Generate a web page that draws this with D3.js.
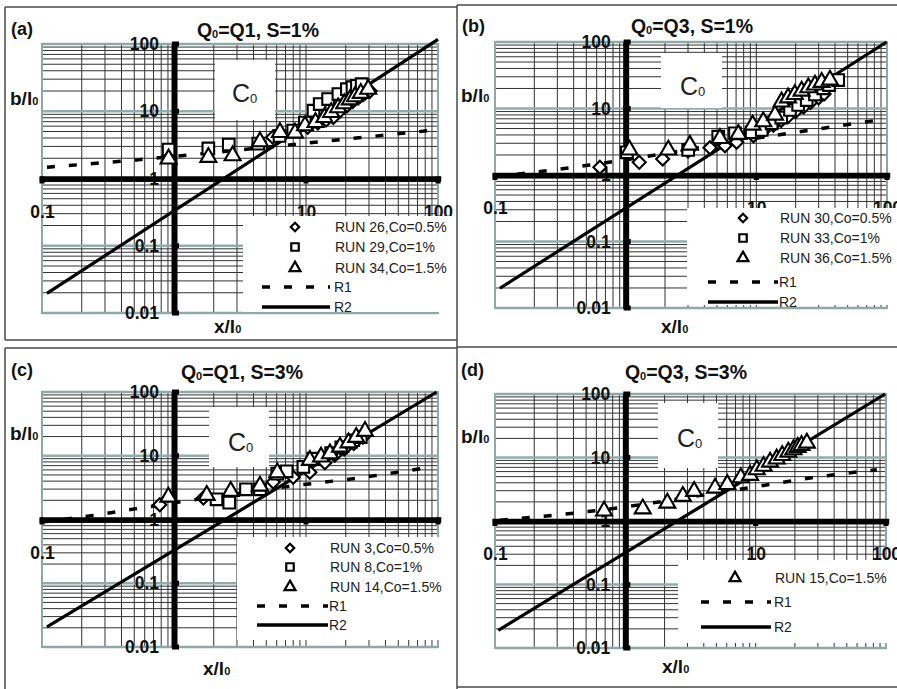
<!DOCTYPE html>
<html>
<head>
<meta charset="utf-8">
<script src="https://cdn.jsdelivr.net/npm/d3@7"></script>
<style>
  body { margin: 0; background: #fff; }
  svg { display: block; }
</style>
</head>
<body>
<svg id="fig" width="897" height="689"></svg>
<script>
// ---------------- data ----------------
const xTickValues = [0.1, 10, 100];
const xTickLabels = ["0.1", "10", "100"];
const yTickValues = [0.01, 0.1, 1, 10, 100];
const yTickLabels = ["0.01", "0.1", "1", "10", "100"];

const panelTags = ["(a)", "(b)", "(c)", "(d)"];
const inflowNames = ["Q1", "Q3", "Q1", "Q3"];
const slopeNames = ["1%", "1%", "3%", "3%"];

// (a) Q0=Q1, S=1%
const legendA = ["RUN 26,Co=0.5%", "RUN 29,Co=1%", "RUN 34,Co=1.5%"];
const runA26 = [[5.6,4.1],[8.3,5.1],[10.3,5.8],[12.3,6.7],[14.2,7.4],[16.1,8.1],[18.2,10.2],[20.5,12.2],[23,14.5],[25.5,16.5],[28,18.5],[30.6,20]];
const runA29 = [[0.91,2.7],[1.82,2.8],[2.6,3.2],[4.35,3.3],[6.3,4.3],[8.0,5.15],[9.8,6.8],[11.4,10.2],[12.7,12.8],[14.7,15.2],[17.6,18.0],[20.4,21.3],[22.5,22.8],[24.3,23.9],[26.4,25.3]];
const runA34 = [[0.91,1.96],[1.82,2.07],[2.78,2.19],[4.48,3.53],[6.35,4.85],[8.26,4.75],[9.83,6.1],[11.8,6.83],[13.8,8.1],[15.5,9.6],[17.5,11.3],[19.5,13.0],[21.5,14.8],[23.5,16.5],[26,18.5],[29.6,21.3]];
const r1A = [[0.109,1.47],[0.52,1.89],[7.8,3.19],[84.5,5.14]];
const r2A = [[0.109,0.0196],[100,117]];

// (b) Q0=Q3, S=1%
const legendB = ["RUN 30,Co=0.5%", "RUN 33,Co=1%", "RUN 36,Co=1.5%"];
const runB30 = [[0.635,1.31],[1.27,1.55],[1.92,1.74],[3.0,2.3],[4.42,2.57],[5.75,2.76],[7.07,3.1],[9.5,3.9],[11.3,4.59],[13.5,5.6],[15.5,6.6],[17.5,7.6],[20,9.0],[23,10.5],[26,12.3],[30,14.5],[33,16.5]];
const runB33 = [[1.02,2.19],[3.01,2.38],[5.11,3.77],[6.86,4.24],[9.2,4.39],[11,4.75],[13.1,5.99],[15.5,7.3],[18.1,9.5],[20.9,11.3],[24.3,13.4],[28.1,16.3],[32.5,20.1],[36,22.5],[42.3,26.8]];
const runB36 = [[1.07,2.38],[2.12,2.38],[3.1,2.82],[5.26,3.56],[7.28,4.09],[9.37,5.65],[11.3,6.34],[13.9,7.98],[15.6,12.6],[17.5,14.5],[19.7,16.3],[22.2,18.3],[25,20.6],[28.1,22.6],[31.6,24.8],[36.6,26.8]];
const r1B = [[0.1,0.95],[0.25,1.16],[0.53,1.41],[12,3.77],[38.7,5.32],[85.7,6.7]];
const r2B = [[0.109,0.0198],[99.3,100]];

// (c) Q0=Q1, S=3%
const legendC = ["RUN 3,Co=0.5%", "RUN 8,Co=1%", "RUN 14,Co=1.5%"];
const runC3 = [[0.78,1.7],[1.67,2.17],[5.65,3.87],[8.0,4.6],[10.7,5.5],[13.9,7.8],[16.5,10.2],[19.5,12.8],[23,15.5],[27,19.5]];
const runC8 = [[2.1,2.07],[2.62,1.84],[3.51,2.98],[4.48,2.98],[6.06,5.23],[7.14,5.7],[9.55,6.67],[11.36,9.0],[15.5,11.0],[18.5,13.5],[22.8,17.5],[26,19.5]];
const runC14 = [[0.906,2.25],[1.77,2.4],[2.69,2.77],[4.48,3.35],[6.06,5.42],[10.7,8.5],[13,9.6],[15.2,10.8],[18.1,13.7],[21,16],[24,19.5],[28,24.2]];
const r1C = [[0.1,0.91],[0.245,1.16],[0.52,1.48],[7.8,3.35],[24.9,4.48],[79.8,6.43]];
const r2C = [[0.109,0.0206],[97.7,100]];

// (d) Q0=Q3, S=3%
const legendD = ["RUN 15,Co=1.5%"];
const runD15 = [[0.687,1.44],[1.36,1.56],[2.1,1.92],[2.76,2.45],[3.37,2.94],[4.88,3.31],[6.06,3.78],[7.69,4.81],[9.06,5.25],[10.2,6.43],[11.5,7.3],[12.9,8.5],[14.5,9.5],[16,10.8],[17.8,12.2],[19.5,13.3],[21,14.5],[22.5,15.5],[24.7,16.9]];
const r1D = [[0.109,1.03],[0.249,1.2],[0.535,1.42],[8.05,3.23],[26.1,4.75],[85,6.43]];
const r2D = [[0.106,0.019],[98.4,100]];

const fitNames = ["R1", "R2"];

// ---------------- layout ----------------
const layouts = [
  { clip:[5,7,451,333], plot:[42,438,44,313], tag:[11,35], title:[258,37], yTitle:[10,105], xTitle:[214,333],
    c0Box:[215,60,60,60], c0Text:[232,102], legendBox:[243,216,214,96],
    legend:{ mx:295, tx:335, lx0:262, lx1:330, rows:[227,247,268,287,307] } },
  { clip:[457,5,440,335], plot:[495,887,42,308], tag:[462,32], title:[692,33], yTitle:[461,102], xTitle:[661,333],
    c0Box:[661,53,61,55], c0Text:[680,95], legendBox:[687,208,210,97],
    legend:{ mx:743, tx:780, lx0:708, lx1:778, rows:[218,238,258,282,302] } },
  { clip:[5,348,452,341], plot:[42,438,392,647], tag:[11,376], title:[242,379], yTitle:[10,440], xTitle:[203,675],
    c0Box:[209,407,60,60], c0Text:[228,451], legendBox:[237,537,220,103],
    legend:{ mx:290, tx:330, lx0:257, lx1:328, rows:[548,567,587,606,625] } },
  { clip:[457,347,440,342], plot:[495,886,394,648], tag:[461,376], title:[686,379], yTitle:[461,443], xTitle:[662,673],
    c0Box:[658,403,60,65], c0Text:[677,447], legendBox:[678,560,219,83],
    legend:{ mx:735, tx:775, lx0:701, lx1:771, rows:[578,602,627] } }
];

const panels = [
  { series:[{label:legendA[0],shape:"diamond",pts:runA26},{label:legendA[1],shape:"square",pts:runA29},{label:legendA[2],shape:"triangle",pts:runA34}], r1:r1A, r2:r2A },
  { series:[{label:legendB[0],shape:"diamond",pts:runB30},{label:legendB[1],shape:"square",pts:runB33},{label:legendB[2],shape:"triangle",pts:runB36}], r1:r1B, r2:r2B },
  { series:[{label:legendC[0],shape:"diamond",pts:runC3},{label:legendC[1],shape:"square",pts:runC8},{label:legendC[2],shape:"triangle",pts:runC14}], r1:r1C, r2:r2C },
  { series:[{label:legendD[0],shape:"triangle",pts:runD15}], r1:r1D, r2:r2D }
];

// ---------------- drawing ----------------
const FONT = "'Liberation Sans', Arial, Helvetica, sans-serif";
const svg = d3.select("#fig");
svg.append("rect").attr("width", 897).attr("height", 689).attr("fill", "#fff");

const markerSize = { square: 135, triangle: 110, diamond: 85 };
const legendMarkerSize = { square: 56, triangle: 52, diamond: 36 };
function symbolPath(shape, size) {
  const type = shape === "triangle" ? d3.symbolTriangle : d3.symbolSquare;
  return d3.symbol(type, size)();
}
function markerTransform(shape, px, py) {
  return `translate(${px},${py})` + (shape === "diamond" ? " rotate(45)" : "");
}
const isDecade = v => Math.abs(Math.log10(v) - Math.round(Math.log10(v))) < 1e-6;

panels.forEach((p, i) => {
  const L = layouts[i];
  const [px0, px1, py0, py1] = L.plot;
  const x = d3.scaleLog().domain([0.1, 100]).range([px0, px1]);
  const y = d3.scaleLog().domain([0.01, 100]).range([py1, py0]);

  svg.append("clipPath").attr("id", "clip-" + i)
    .append("rect").attr("x", L.clip[0]).attr("y", L.clip[1]).attr("width", L.clip[2]).attr("height", L.clip[3]);
  const g = svg.append("g").attr("clip-path", `url(#clip-${i})`);

  // log grid
  const grid = g.append("g");
  grid.selectAll("line.gx").data(x.ticks()).join("line").attr("class", "gx")
    .attr("x1", d => x(d)).attr("x2", d => x(d)).attr("y1", py0).attr("y2", py1)
    .attr("stroke", "#333").attr("stroke-width", 1);
  const yt = y.ticks();
  grid.selectAll("line.gy").data(yt.filter(v => !isDecade(v))).join("line").attr("class", "gy")
    .attr("x1", px0).attr("x2", px1).attr("y1", d => y(d)).attr("y2", d => y(d))
    .attr("stroke", "#333").attr("stroke-width", 1);
  grid.selectAll("line.gym").data(yt.filter(isDecade)).join("line").attr("class", "gym")
    .attr("x1", px0).attr("x2", px1).attr("y1", d => y(d)).attr("y2", d => y(d))
    .attr("stroke", "#94abab").attr("stroke-width", 2.5);
  g.append("rect").attr("x", px0).attr("y", py0).attr("width", px1 - px0).attr("height", py1 - py0)
    .attr("fill", "none").attr("stroke", "#8fa7a7").attr("stroke-width", 2);

  // vertical axis through x = 1
  const yAxis = d3.axisLeft(y).tickValues(yTickValues).tickFormat((d, k) => yTickLabels[k])
    .tickSize(0).tickSizeOuter(0).tickPadding(15);
  const ya = g.append("g").attr("transform", `translate(${x(1)},0)`).call(yAxis);
  ya.select(".domain").attr("stroke", "#000").attr("stroke-width", 6);
  ya.selectAll("text").attr("font-family", FONT).attr("font-size", 17.5).attr("font-weight", "bold").attr("fill", "#111");

  // horizontal axis through y = 1
  const xAxis = d3.axisBottom(x).tickValues(xTickValues).tickFormat((d, k) => xTickLabels[k])
    .tickSize(0).tickSizeOuter(0).tickPadding(27);
  const xa = g.append("g").attr("transform", `translate(0,${y(1)})`).call(xAxis);
  xa.select(".domain").attr("stroke", "#000").attr("stroke-width", 5.5).attr("stroke-linecap", "square");
  xa.selectAll("text").attr("font-family", FONT).attr("font-size", 17.5).attr("font-weight", "bold").attr("fill", "#111");

  // tick nubs
  g.selectAll("rect.ytk").data(yTickValues.filter(v => v !== 1)).join("rect").attr("class", "ytk")
    .attr("x", x(1) - 2).attr("y", d => y(d) - 2.5).attr("width", 7).attr("height", 5).attr("fill", "#000");
  g.selectAll("rect.xtk").data(xTickValues).join("rect").attr("class", "xtk")
    .attr("x", d => x(d) - 2.5).attr("y", y(1) - 2).attr("width", 5).attr("height", 7).attr("fill", "#000");

  // white boxes: concentration label and legend
  g.append("rect").attr("x", L.c0Box[0]).attr("y", L.c0Box[1]).attr("width", L.c0Box[2]).attr("height", L.c0Box[3]).attr("fill", "#fff");
  g.append("rect").attr("x", L.legendBox[0]).attr("y", L.legendBox[1]).attr("width", L.legendBox[2]).attr("height", L.legendBox[3]).attr("fill", "#fff");
  const c0 = g.append("text").attr("x", L.c0Text[0]).attr("y", L.c0Text[1])
    .attr("font-family", FONT).attr("font-size", 25).attr("fill", "#222");
  c0.append("tspan").text("C");
  c0.append("tspan").attr("font-size", 13).attr("dy", 1).text("0");

  // fitted relations
  const straight = d3.line().x(d => x(d[0])).y(d => y(d[1]));
  const smooth = d3.line().x(d => x(d[0])).y(d => y(d[1])).curve(d3.curveMonotoneX);
  g.append("path").attr("d", smooth(p.r1)).attr("fill", "none").attr("stroke", "#000")
    .attr("stroke-width", 3.5).attr("stroke-dasharray", "8,14");
  g.append("path").attr("d", straight(p.r2)).attr("fill", "none").attr("stroke", "#000").attr("stroke-width", 3.2);

  // measured points
  p.series.forEach(s => {
    g.append("g").selectAll("path").data(s.pts).join("path")
      .attr("d", symbolPath(s.shape, markerSize[s.shape]))
      .attr("transform", d => markerTransform(s.shape, x(d[0]), y(d[1])))
      .attr("fill", "#fff").attr("stroke", "#000").attr("stroke-width", 2.1);
  });

  // legend
  const lg = L.legend;
  p.series.forEach((s, k) => {
    g.append("path").attr("d", symbolPath(s.shape, legendMarkerSize[s.shape]))
      .attr("transform", markerTransform(s.shape, lg.mx, lg.rows[k]))
      .attr("fill", "#fff").attr("stroke", "#000").attr("stroke-width", 2.2);
    g.append("text").attr("x", lg.tx).attr("y", lg.rows[k] + 5).text(s.label)
      .attr("font-family", FONT).attr("font-size", 14).attr("fill", "#222");
  });
  const n = p.series.length;
  fitNames.forEach((name, k) => {
    const ry = lg.rows[n + k];
    g.append("line").attr("x1", lg.lx0).attr("x2", lg.lx1).attr("y1", ry).attr("y2", ry)
      .attr("stroke", "#000").attr("stroke-width", 3.5).attr("stroke-dasharray", k === 0 ? "8,14" : null);
    g.append("text").attr("x", lg.tx - 1).attr("y", ry + 5).text(name)
      .attr("font-family", FONT).attr("font-size", 14).attr("fill", "#222");
  });

  // titles
  g.append("text").attr("x", L.tag[0]).attr("y", L.tag[1]).text(panelTags[i])
    .attr("font-family", FONT).attr("font-size", 18).attr("font-weight", "bold").attr("fill", "#111");
  const t = g.append("text").attr("x", L.title[0]).attr("y", L.title[1]).attr("text-anchor", "middle")
    .attr("font-family", FONT).attr("font-size", 19.5).attr("font-weight", "bold").attr("fill", "#111");
  t.append("tspan").text("Q");
  t.append("tspan").attr("font-size", 11).attr("dy", 1).text("0");
  t.append("tspan").attr("dy", -1).text(`=${inflowNames[i]}, S=${slopeNames[i]}`);

  const yl = g.append("text").attr("x", L.yTitle[0]).attr("y", L.yTitle[1])
    .attr("font-family", FONT).attr("font-size", 19).attr("font-weight", "bold").attr("fill", "#111");
  yl.append("tspan").text("b/l");
  yl.append("tspan").attr("font-size", 11).text("0");
  const xl = g.append("text").attr("x", L.xTitle[0]).attr("y", L.xTitle[1])
    .attr("font-family", FONT).attr("font-size", 19).attr("font-weight", "bold").attr("fill", "#111");
  xl.append("tspan").text("x/l");
  xl.append("tspan").attr("font-size", 11).text("0");
});

// panel frames
const frameLines = [
  [5, 7, 5, 340], [5, 7, 457, 7], [5, 340, 457, 340],
  [457, 5, 897, 5], [457, 5, 457, 689],
  [5, 348, 457, 348], [5, 348, 5, 689],
  [457, 347, 897, 347], [457, 687, 897, 687]
];
svg.append("g").selectAll("line").data(frameLines).join("line")
  .attr("x1", d => d[0]).attr("y1", d => d[1]).attr("x2", d => d[2]).attr("y2", d => d[3])
  .attr("stroke", "#4a4a4a").attr("stroke-width", 1.5);
</script>
</body>
</html>
